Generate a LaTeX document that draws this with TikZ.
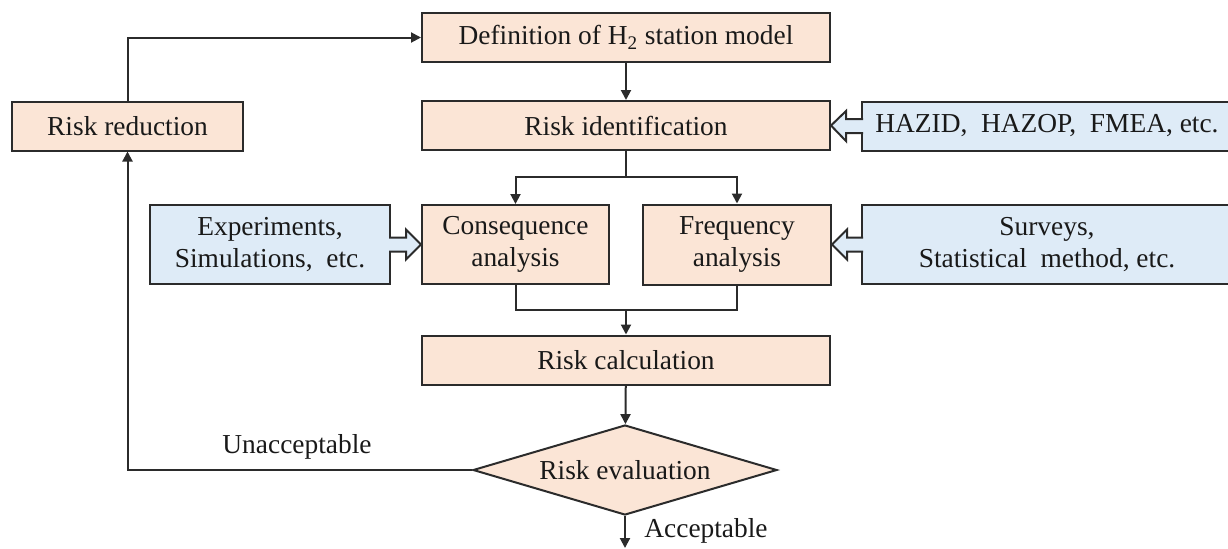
\documentclass[tikz,border=0pt]{standalone}
\usepackage{fontspec}
\setmainfont{Liberation Serif}
\usepackage{xcolor}
\usepackage{tikz}
\usetikzlibrary{positioning,shapes.geometric,arrows.meta,calc}
\definecolor{linecol}{HTML}{2B2B2B}
\definecolor{peach}{HTML}{FBE5D6}
\definecolor{paleblue}{HTML}{DEEBF7}

% hollow block arrow from a source box edge (#1) to the tip point (#2)
\newcommand{\feedarrow}[2]{%
  \path[feed] let \p1=($(#1)!-1pt!(#2)$), \p2=(#2), \p3=($(#2)!7.5pt!(#1)$) in
    (\x1,\y1+3.5pt) -- (\x3,\y1+3.5pt) -- (\x3,\y1+7.5pt) -- (\x2,\y2)
    -- (\x3,\y1-7.5pt) -- (\x3,\y1-3.5pt) -- (\x1,\y1-3.5pt);
}

\begin{document}
\begin{tikzpicture}[
    x=0.5pt, y=-0.5pt,
    every node/.style={
        font=\fontsize{13.7}{16}\selectfont,
        text=black!90,
        align=center
    },
    box/.style={
        rectangle,
        draw=linecol,
        line width=1pt,
        fill=peach,
        inner sep=0pt,
        minimum width=204pt,
        minimum height=24.5pt
    },
    source/.style={
        box,
        fill=paleblue
    },
    decision/.style={
        diamond,
        aspect=3.4,
        draw=linecol,
        line width=1pt,
        fill=peach,
        inner sep=0pt,
        minimum width=152pt,
        minimum height=45pt
    },
    label/.style={
        inner sep=0pt
    },
    link/.style={
        line width=1pt,
        color=linecol
    },
    arrow/.style={
        link,
        -{Triangle[length=5pt,width=5pt]}
    },
    feed/.style={
        fill=paleblue,
        draw=linecol,
        line width=1pt,
        line join=miter
    }
]
\useasboundingbox (0,0) rectangle (1228,548);

% main chain
\node[box] (def) at (626,37.5) {Definition of H\textsubscript{2} station model};
\node[box] (ident) at (626,125.5) {Risk identification};
\node[box, minimum width=115.5pt] (reduce) at (127.5,126) {Risk reduction};
\node[box, minimum width=93.5pt, minimum height=39.5pt] (conseq) at (515.5,244.5) {Consequence\\analysis};
\node[box, minimum width=94pt, minimum height=40pt] (freq) at (737,244.5) {Frequency\\analysis};
\node[box] (calc) at (626,360) {Risk calculation};
\node[decision] (eval) at (625,470) {Risk evaluation};

% input methods
\node[source, minimum width=185pt] (hazid) at (1047,126) {HAZID,~ HAZOP,~ FMEA, etc.};
\node[source, minimum width=120pt, minimum height=39.5pt] (exper) at (270,244.5) {Experiments,\\Simulations,~ etc.};
\node[source, minimum width=185pt, minimum height=39.5pt] (survey) at (1047,244.5) {Surveys,\\Statistical~ method, etc.};

\node[label] (unacc) at (297,447) {Unacceptable};
\node[label, anchor=west] (acc) at (644,531) {Acceptable};

\coordinate (split) at (626,177);
\coordinate (merge) at (626,310);
\coordinate (out) at (625,548);

\draw[arrow] (def) -- (ident);
\draw[link] (ident) -- (split);
\draw[arrow] (split) -| (conseq);
\draw[arrow] (split) -| (freq);
\draw[link] (conseq) |- (merge);
\draw[link] (freq) |- (merge);
\draw[arrow] (merge) -- (calc);
\draw[arrow] (calc) -- (eval);
\draw[arrow] (eval) -- (out);
\draw[arrow] (eval) -| (reduce);
\draw[arrow] (reduce) |- (def);

\feedarrow{hazid.west}{ident.east}
\feedarrow{exper.east}{conseq.west}
\feedarrow{survey.west}{freq.east}

\end{tikzpicture}
\end{document}
